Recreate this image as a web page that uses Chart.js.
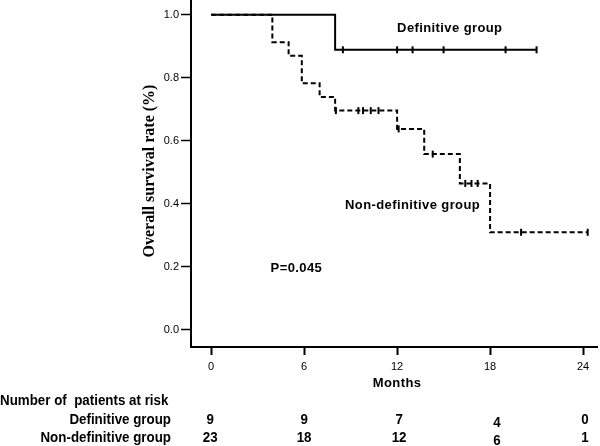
<!DOCTYPE html>
<html>
<head>
<meta charset="utf-8">
<script src="https://cdn.jsdelivr.net/npm/chart.js@4/dist/chart.umd.min.js"></script>
<style>
  html, body { margin: 0; padding: 0; background: #fff; }
  canvas { display: block; }
</style>
</head>
<body>
<canvas id="kmChart" width="600" height="446"></canvas>
<script>
// tick labels
const monthTicks = [0, 6, 12, 18, 24];
const survTicks = [0, 0.2, 0.4, 0.6, 0.8, 1.0];

// definitive group: event times / survival after event, censored times
const defEventTimes = [0, 8];
const defEventSurv = [1.0, 0.889];
const defCensorTimes = [8.5, 12, 13, 15, 19, 21];

// non-definitive group
const nonEventTimes = [0, 3.95, 5.0, 5.85, 7.0, 8.0, 12.0, 13.75, 16.05, 18.0];
const nonEventSurv = [1.0, 0.913, 0.870, 0.783, 0.739, 0.696, 0.638, 0.558, 0.465, 0.310];
const nonCensorTimes = [8.05, 9.5, 9.8, 10.3, 10.8, 12.1, 14.3, 16.4, 16.8, 17.2, 20.0, 24.3];

// number at risk
const riskMonths = [0, 6, 12, 18, 24];
const riskDef = [9, 9, 7, 4, 0];
const riskNon = [23, 18, 12, 6, 1];

// censored points sit on the current step of the curve
function kmPoints(evT, evS, cenT) {
    const pts = evT.map((t, i) => ({ x: t, y: evS[i], c: false }));
    cenT.forEach(t => {
        let s = evS[0];
        evT.forEach((et, i) => { if (et <= t) s = evS[i]; });
        pts.push({ x: t, y: s, c: true });
    });
    return pts.sort((a, b) => a.x - b.x);
}

const SANS = '"Liberation Sans", Arial, sans-serif';

// condensed text: the table font is narrow, squeeze sans horizontally
function narrowText(ctx, txt, x, y, align) {
    ctx.save();
    ctx.translate(x, y);
    ctx.scale(0.89, 1);
    ctx.textAlign = align;
    ctx.fillText(txt, 0, 0);
    ctx.restore();
}

const textPlugin = {
    id: 'kmText',
    afterDraw(chart) {
        const ctx = chart.ctx;
        const xs = chart.scales.x, ys = chart.scales.y;
        ctx.save();
        ctx.fillStyle = '#000';

        // y axis title
        ctx.save();
        ctx.translate(150, 171);
        ctx.rotate(-Math.PI / 2);
        ctx.font = 'bold 16px "Liberation Serif", "Times New Roman", serif';
        ctx.textAlign = 'center';
        ctx.textBaseline = 'middle';
        ctx.fillText('Overall survival rate (%)', 0, 0);
        ctx.restore();

        // curve labels
        ctx.font = 'bold 13px ' + SANS;
        ctx.letterSpacing = '0.4px';
        ctx.textAlign = 'center';
        ctx.textBaseline = 'middle';
        ctx.fillText('Definitive group', xs.getPixelForValue(15.4), ys.getPixelForValue(0.958));
        ctx.fillText('Non-definitive group', xs.getPixelForValue(13.0), ys.getPixelForValue(0.396));
        ctx.fillText('P=0.045', xs.getPixelForValue(5.5), ys.getPixelForValue(0.196));

        // x axis title
        ctx.fillText('Months', xs.getPixelForValue(12), 383);
        ctx.letterSpacing = '0px';

        // risk table
        ctx.font = 'bold 15px ' + SANS;
        narrowText(ctx, 'Number of  patients at risk', 0, 401, 'left');
        narrowText(ctx, 'Definitive group', 171, 420, 'right');
        narrowText(ctx, 'Non-definitive group', 171, 438, 'right');
        const nudge = [-1, 0, 2, 7, 2];
        riskMonths.forEach((m, i) => {
            const px = xs.getPixelForValue(m) + nudge[i];
            const dy = i === 3 ? 3 : 0;
            narrowText(ctx, String(riskDef[i]), px, 420 + dy, 'center');
            narrowText(ctx, String(riskNon[i]), px, 438 + dy, 'center');
        });
        ctx.restore();
    }
};

const ctx = document.getElementById('kmChart').getContext('2d');
new Chart(ctx, {
    type: 'line',
    data: {
        datasets: [{
            label: 'Definitive group',
            data: kmPoints(defEventTimes, defEventSurv, defCensorTimes),
            borderColor: '#000',
            borderWidth: 2,
            stepped: true,
            fill: false
        }, {
            label: 'Non-definitive group',
            data: kmPoints(nonEventTimes, nonEventSurv, nonCensorTimes),
            borderColor: '#000',
            borderWidth: 2,
            borderDash: [5, 3],
            stepped: true,
            fill: false
        }]
    },
    options: {
        responsive: false,
        animation: false,
        layout: { autoPadding: false, padding: { top: 0, right: 3, left: 0, bottom: 0 } },
        elements: {
            point: {
                radius: c => (c.raw && c.raw.c ? 3.5 : 0),
                pointStyle: 'line',
                rotation: 90,
                borderWidth: 1.5,
                borderColor: '#000',
                hoverRadius: 0
            }
        },
        scales: {
            x: {
                type: 'linear',
                min: -1.3,
                max: 24.9,
                afterBuildTicks: s => { s.ticks = monthTicks.map(v => ({ value: v })); },
                afterFit: s => { s.height = 99; s.paddingLeft = 0; s.paddingRight = 0; },
                ticks: { color: '#000', font: { size: 11, family: SANS }, padding: 5, maxRotation: 0 },
                grid: { drawOnChartArea: false, drawTicks: true, tickLength: 8, tickColor: '#000', tickWidth: 2 },
                border: { color: '#000', width: 2 }
            },
            y: {
                min: -0.054,
                max: 1.047,
                afterBuildTicks: s => { s.ticks = survTicks.map(v => ({ value: v })); },
                afterFit: s => { s.width = 191; s.paddingTop = 0; s.paddingBottom = 0; },
                ticks: { color: '#000', font: { size: 11, family: SANS }, padding: 2, callback: v => v.toFixed(1) },
                grid: { drawOnChartArea: false, drawTicks: true, tickLength: 10, tickColor: '#000', tickWidth: 1.5 },
                border: { color: '#000', width: 2 }
            }
        },
        plugins: {
            legend: { display: false },
            tooltip: { enabled: false }
        }
    },
    plugins: [textPlugin]
});
</script>
</body>
</html>
